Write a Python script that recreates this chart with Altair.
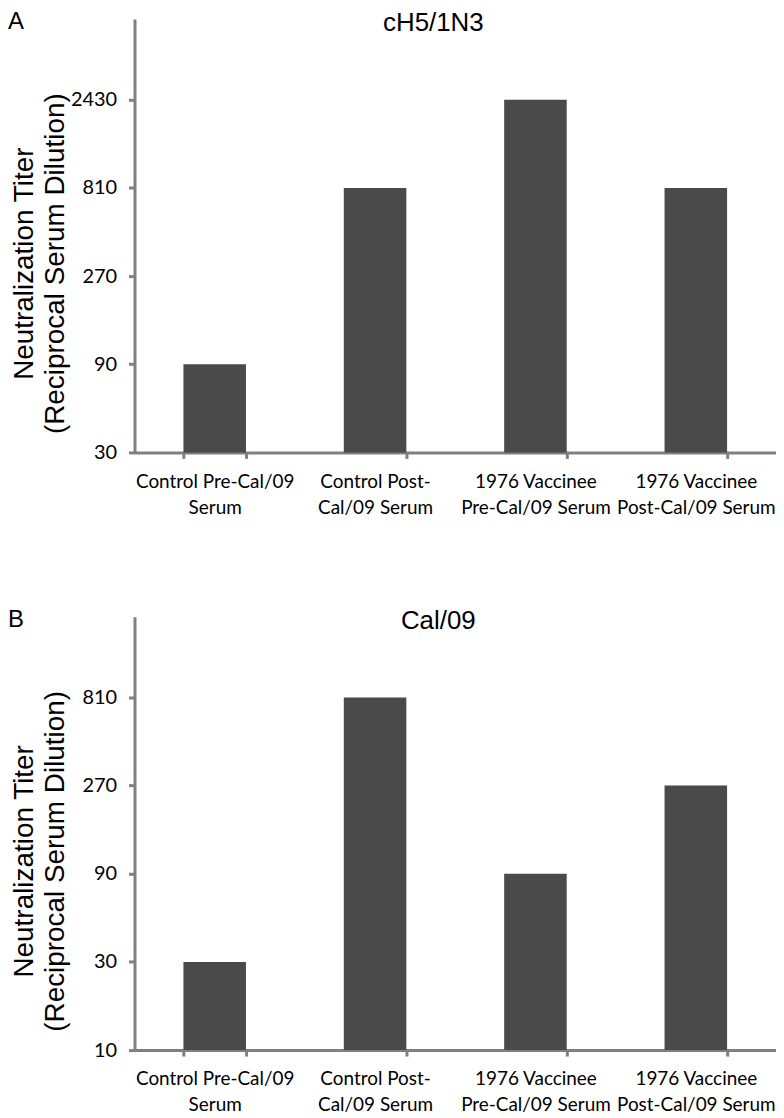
import altair as alt
import pandas as pd

# ---- data ----
categories = [
    "Control Pre-Cal/09|Serum",
    "Control Post-|Cal/09 Serum",
    "1976 Vaccinee|Pre-Cal/09 Serum",
    "1976 Vaccinee|Post-Cal/09 Serum",
]
titer_cH5 = [90, 810, 2430, 810]
titer_cal09 = [30, 810, 90, 270]
ticks_cH5 = [30, 90, 270, 810, 2430]
ticks_cal09 = [10, 30, 90, 270, 810]
domain_cH5 = [30, 6640]
domain_cal09 = [10, 2213]
panel_titles = ["cH5/1N3", "Cal/09"]
panel_letters = ["A", "B"]
y_title = ["Neutralization Titer", "(Reciprocal Serum Dilution)"]

# ---- styling ----
W, H = 644, 435
BAR = "#4a4a4a"
AXIS = "#808080"
LABEL_FONT = "Lato"
TITLE_FONT = "Liberation Sans"


def panel(values, ticks, domain, title, letter, title_x):
    df = pd.DataFrame({"group": categories, "titer": values})
    bars = alt.Chart(df).mark_bar(color=BAR).encode(
        x=alt.X(
            "group:N",
            sort=categories,
            title=None,
            scale=alt.Scale(paddingInner=0.61, paddingOuter=0.305),
            axis=alt.Axis(
                labelAngle=0,
                labelExpr="split(datum.label, '|')",
                labelFont=LABEL_FONT,
                labelFontSize=19,
                labelColor="black",
                labelLineHeight=26,
                labelPadding=14,
                labelBaseline="top",
                tickBand="extent",
                tickSize=6,
                tickWidth=3,
                tickColor=AXIS,
                domainColor=AXIS,
                domainWidth=3,
                grid=False,
            ),
        ),
        y=alt.Y(
            "titer:Q",
            scale=alt.Scale(type="log", base=3, domain=domain, nice=False),
            axis=alt.Axis(
                values=ticks,
                format="d",
                title=y_title,
                titleFont=TITLE_FONT,
                titleFontSize=28,
                titleFontWeight="normal",
                titleColor="black",
                titleLineHeight=31,
                titleBaseline="top",
                titleAngle=270,
                titleAlign="center",
                titleX=-124,
                titleY=245,
                labelFont=LABEL_FONT,
                labelFontSize=20,
                labelColor="black",
                labelPadding=12,
                tickSize=6,
                tickWidth=3,
                tickColor=AXIS,
                domainColor=AXIS,
                domainWidth=3,
                grid=False,
            ),
        ),
        y2=alt.datum(domain[0]),
    )
    letter_layer = alt.Chart(pd.DataFrame({"t": [letter]})).mark_text(
        font=TITLE_FONT, fontSize=24, align="left", baseline="top", color="black"
    ).encode(text="t:N", x=alt.value(-127), y=alt.value(-9))
    title_layer = alt.Chart(pd.DataFrame({"t": [title]})).mark_text(
        font=TITLE_FONT, fontSize=26, align="center", baseline="top", color="black"
    ).encode(text="t:N", x=alt.value(title_x), y=alt.value(-9))
    return alt.layer(bars, letter_layer, title_layer).properties(width=W, height=H)


panel_a = panel(titer_cH5, ticks_cH5, domain_cH5, panel_titles[0], panel_letters[0], 300)
panel_b = panel(titer_cal09, ticks_cal09, domain_cal09, panel_titles[1], panel_letters[1], 305)

chart = (
    alt.vconcat(panel_a, panel_b, spacing=165, bounds="flush")
    .properties(padding=0)
    .configure_view(stroke=None)
)

chart.save("out.html", embed_options={"renderer": "svg", "actions": False})
